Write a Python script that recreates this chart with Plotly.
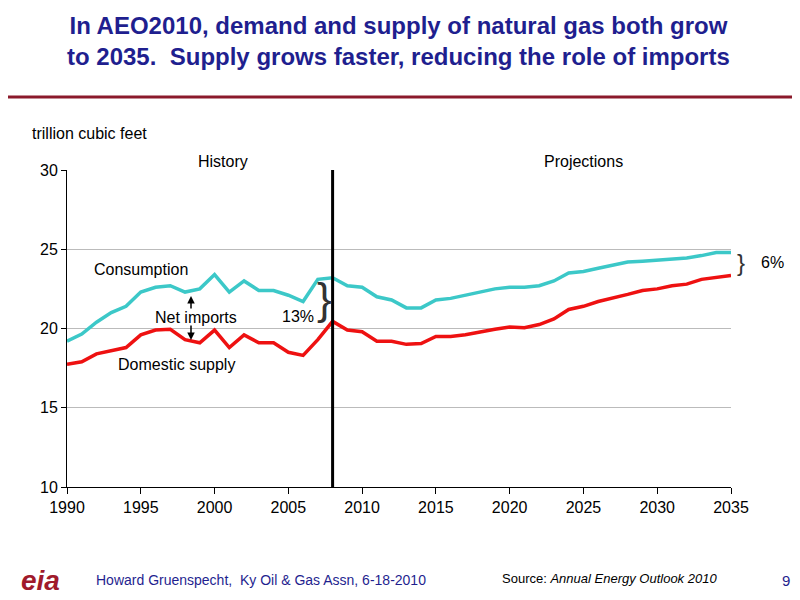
import plotly.graph_objects as go

years = list(range(1990, 2036))
consumption = [19.2,19.65,20.4,21.0,21.4,22.3,22.6,22.7,22.3,22.5,23.4,22.3,23.0,22.4,22.4,22.1,21.7,23.1,23.2,22.7,
               22.6,22.0,21.8,21.3,21.3,21.8,21.9,22.1,22.3,22.5,22.6,22.6,22.7,23.0,23.5,23.6,23.8,24.0,24.2,24.25,
               24.3,24.4,24.45,24.6,24.8,24.8]
domestic = [17.75,17.9,18.4,18.6,18.8,19.6,19.9,19.95,19.3,19.1,19.9,18.8,19.6,19.1,19.1,18.5,18.3,19.3,20.45,19.9,
            19.8,19.2,19.2,19.0,19.05,19.5,19.5,19.6,19.8,19.95,20.1,20.05,20.25,20.6,21.2,21.4,21.7,21.9,22.15,22.4,
            22.5,22.7,22.8,23.1,23.25,23.35]
x_ticks = [1990,1995,2000,2005,2010,2015,2020,2025,2030,2035]
y_ticks = [10,15,20,25,30]

F = "Arial, Liberation Sans, sans-serif"
NAVY = "#1f1f8f"
OFF = 8  # page body margin
W, H = 800, 600
fig = go.Figure()
fig.add_trace(go.Scatter(x=years, y=consumption, mode="lines", line=dict(color="#3cc8c8", width=3.5)))
fig.add_trace(go.Scatter(x=years, y=domestic, mode="lines", line=dict(color="#ee1111", width=3.5)))

def px(x): return (x - OFF) / W
def py(y): return 1 - (y - OFF) / H

fig.update_layout(
    width=W, height=H, margin=dict(l=0, r=0, t=0, b=0, autoexpand=False), showlegend=False,
    plot_bgcolor="white", paper_bgcolor="white", font=dict(family=F, color="black", size=16),
    xaxis=dict(domain=[px(67), px(731)], range=[1990, 2035], tickvals=x_ticks, showgrid=False, automargin=False,
               showline=True, linecolor="black", ticks="outside", ticklen=6, tickcolor="black", zeroline=False),
    yaxis=dict(domain=[py(487), py(170)], range=[10, 30], tickvals=y_ticks, showgrid=True, gridcolor="#bbbbbb",
               automargin=False,
               showline=True, linecolor="black", ticks="outside", ticklen=5, tickcolor="black", zeroline=False),
)
fig.add_shape(type="line", xref="x", yref="y", x0=2008, x1=2008, y0=10, y1=30, line=dict(color="black", width=3))
fig.add_shape(type="line", xref="paper", yref="paper", x0=-0.02, x1=1, y0=py(97), y1=py(97),
              line=dict(color="#8b1a2b", width=3))

def ann(text, x, y, size=16, color="black", xanchor="center", **kw):
    fig.add_annotation(text=text, x=px(x), y=py(y), xref="paper", yref="paper", showarrow=False,
                       xanchor=xanchor, yanchor="middle", font=dict(size=size, color=color, family=F), **kw)

ann("<b>In AEO2010, demand and supply of natural gas both grow<br>to 2035.  Supply grows faster, reducing the role of imports</b>",
    398, 41, size=24, color=NAVY)
ann("trillion cubic feet", 30, 133, xanchor="left")
ann("History", 223, 162)
ann("Projections", 583, 162)
ann("Consumption", 141, 269)
ann("Net imports", 196, 317)
ann("Domestic supply", 176, 364)
ann("13%", 298, 316)
ann("6%", 772, 262)
ann("}", 324, 298, size=44, color="#333333")
ann("}", 741, 262, size=24, color="#333333")
for y0, y1 in [(310, 296), (324, 340)]:
    fig.add_annotation(x=px(191), y=py(y1), ax=0, ay=y0-y1, xref="paper", yref="paper",
                       showarrow=True, arrowhead=2, arrowsize=1, arrowwidth=1.5, arrowcolor="black", text="")
ann("<b><i>eia</i></b>", 40, 580, size=28, color="#a01a2b")
ann("Howard Gruenspecht,  Ky Oil & Gas Assn, 6-18-2010", 94, 580, size=14, color=NAVY, xanchor="left")
ann("Source: <i>Annual Energy Outlook 2010</i>", 500, 578, size=13, xanchor="left")
ann("9", 786, 580, size=15, color=NAVY)
fig.write_html("out.html")
